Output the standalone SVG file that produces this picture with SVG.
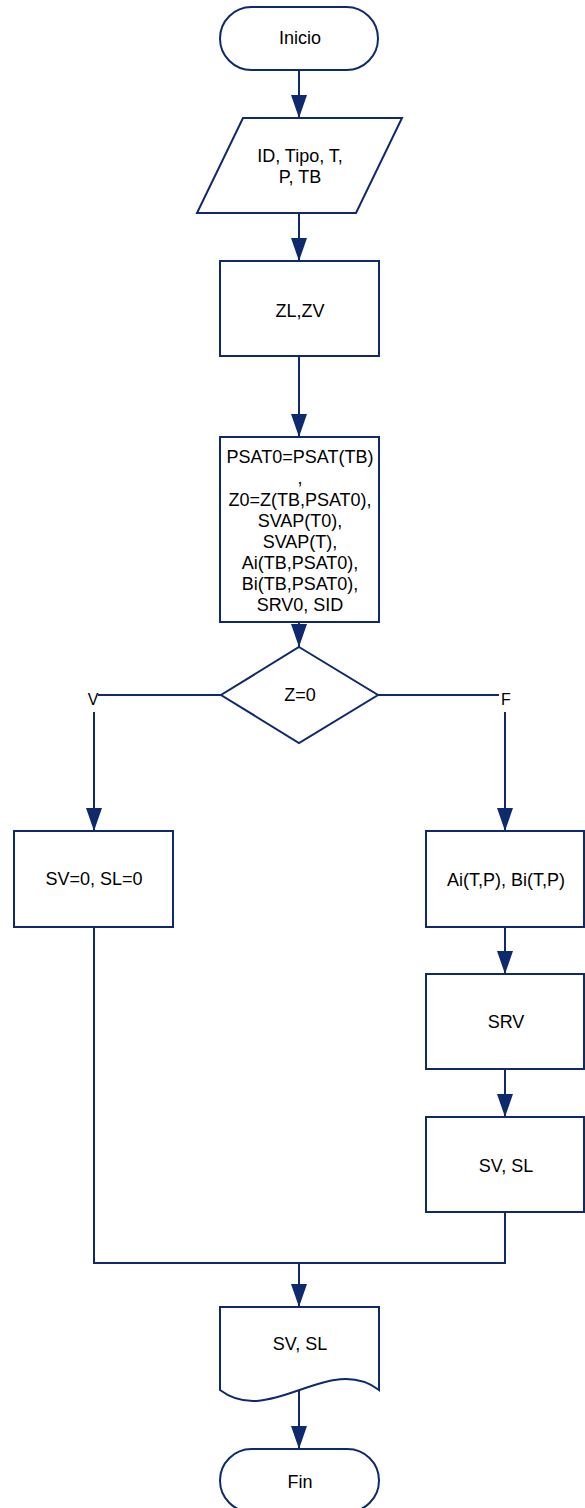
<svg xmlns="http://www.w3.org/2000/svg" width="585" height="1508" viewBox="0 0 585 1508">
  <style>
    .shape { fill: #ffffff; stroke: #0e2a6c; stroke-width: 2; }
    .conn { fill: none; stroke: #0e2a6c; stroke-width: 2; }
    .lbl { font-family: "Liberation Sans", Arial, sans-serif; font-size: 18px; fill: #000000; text-anchor: middle; }
    .small { font-size: 16px; }
  </style>
  <defs>
    <marker id="arrow" markerUnits="userSpaceOnUse" markerWidth="23" markerHeight="16" viewBox="0 0 23 16" refX="23" refY="8" orient="auto">
      <path d="M0,0 L23,8 L0,16 Z" fill="#0e2a6c"/>
    </marker>
  </defs>

  <!-- connectors -->
  <g id="connectors">
    <path class="conn" d="M299,70 V118" marker-end="url(#arrow)"/>
    <path class="conn" d="M299,213 V261" marker-end="url(#arrow)"/>
    <path class="conn" d="M299,356 V437" marker-end="url(#arrow)"/>
    <path class="conn" d="M299,622 V647" marker-end="url(#arrow)"/>
    <path class="conn" d="M221,695 H98 M94,712 V831" marker-end="url(#arrow)"/>
    <path class="conn" d="M378,695 H499 M505,712 V831" marker-end="url(#arrow)"/>
    <path class="conn" d="M505,927 V974" marker-end="url(#arrow)"/>
    <path class="conn" d="M505,1069 V1117" marker-end="url(#arrow)"/>
    <path class="conn" d="M94,927 V1263 H505 V1212"/>
    <path class="conn" d="M299,1263 V1307" marker-end="url(#arrow)"/>
    <path class="conn" d="M299,1391 V1449" marker-end="url(#arrow)"/>
    <text class="lbl small" x="93" y="705">V</text>
    <text class="lbl small" x="506" y="705">F</text>
  </g>

  <!-- start -->
  <g id="inicio">
    <rect class="shape" x="220" y="7" width="158" height="63" rx="31.5" ry="31.5"/>
    <text class="lbl" x="300" y="44">Inicio</text>
  </g>

  <!-- input data -->
  <g id="entrada">
    <polygon class="shape" points="243,118 402,118 356,213 197,213"/>
    <text class="lbl" x="300" y="162">ID, Tipo, T,</text>
    <text class="lbl" x="300" y="183">P, TB</text>
  </g>

  <!-- compressibility factors -->
  <g id="zlzv">
    <rect class="shape" x="220" y="261" width="159" height="95"/>
    <text class="lbl" x="300" y="317">ZL,ZV</text>
  </g>

  <!-- saturation and ideal-gas properties -->
  <g id="propiedades">
    <rect class="shape" x="220" y="437" width="159" height="185"/>
    <text class="lbl" x="300" y="463">PSAT0=PSAT(TB)</text>
    <text class="lbl" x="300" y="484">,</text>
    <text class="lbl" x="300" y="506">Z0=Z(TB,PSAT0),</text>
    <text class="lbl" x="300" y="527">SVAP(T0),</text>
    <text class="lbl" x="300" y="548">SVAP(T),</text>
    <text class="lbl" x="300" y="569">Ai(TB,PSAT0),</text>
    <text class="lbl" x="300" y="590">Bi(TB,PSAT0),</text>
    <text class="lbl" x="300" y="611">SRV0, SID</text>
  </g>

  <!-- decision -->
  <g id="decision">
    <polygon class="shape" points="299,647 378,695 299,743 221,695"/>
    <text class="lbl" x="300" y="701">Z=0</text>
  </g>

  <!-- true branch -->
  <g id="cero">
    <rect class="shape" x="14" y="831" width="159" height="96"/>
    <text class="lbl" x="94" y="885">SV=0, SL=0</text>
  </g>

  <!-- false branch -->
  <g id="aibi">
    <rect class="shape" x="426" y="831" width="158" height="96"/>
    <text class="lbl" x="506" y="886">Ai(T,P), Bi(T,P)</text>
  </g>
  <g id="srv">
    <rect class="shape" x="426" y="974" width="158" height="95"/>
    <text class="lbl" x="506" y="1028">SRV</text>
  </g>
  <g id="svsl">
    <rect class="shape" x="426" y="1117" width="158" height="95"/>
    <text class="lbl" x="506" y="1172">SV, SL</text>
  </g>

  <!-- output document -->
  <g id="salida">
    <path class="shape" d="M220,1307 H379 V1390 C329,1352 270,1428 220,1390 Z"/>
    <text class="lbl" x="300" y="1350">SV, SL</text>
  </g>

  <!-- end -->
  <g id="fin">
    <rect class="shape" x="220" y="1449" width="159" height="63" rx="31.5" ry="31.5"/>
    <text class="lbl" x="300" y="1488">Fin</text>
  </g>
</svg>
